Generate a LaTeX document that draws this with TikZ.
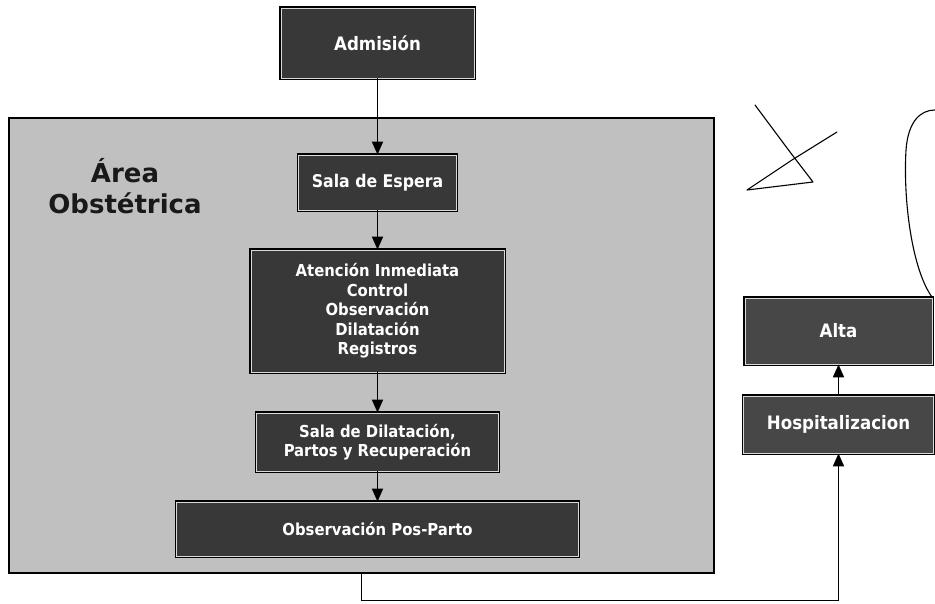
\documentclass[tikz,border=0pt]{standalone}
\usepackage{fontspec}
\setmainfont{DejaVu Sans}
\newfontfamily\narrowfont{DejaVu Sans Condensed}
\usetikzlibrary{arrows.meta}

\definecolor{areafill}{HTML}{C0C0C0}
\definecolor{boxfill}{HTML}{383838}
\definecolor{sidefill}{HTML}{474747}
\definecolor{boxrule}{HTML}{DADADA}

\tikzset{
  stagebox/.style={
    rectangle, inner sep=0pt, fill=boxfill, draw=boxrule, line width=0.8pt,
    preaction={draw=black, line width=3.6pt},
    text=white, align=center,
    font=\narrowfont\bfseries\fontsize{16.5}{19.5}\selectfont
  },
  sidebox/.style={stagebox, fill=sidefill, font=\narrowfont\bfseries\fontsize{18.5}{21}\selectfont},
  flow/.style={draw=black, line width=1.8pt,
    -{Triangle[length=13pt,width=11pt]}},
  pen/.style={draw=black, line width=1.1pt, line cap=round, line join=round}
}

\begin{document}
\begin{tikzpicture}[x=1pt,y=-1pt]
\useasboundingbox (0,0) rectangle (935,604);
\fill[white] (0,0) rectangle (935,604);

% obstetric area frame
\node[rectangle, inner sep=0pt, fill=areafill, draw=black, line width=1.8pt,
      minimum width=705pt, minimum height=455pt] (area) at (361.5,345.5) {};
\node[align=center, font=\bfseries\fontsize{26}{31}\selectfont, text=black!90]
      (arealabel) at (125,186) {Área\\Obstétrica};

% stages inside the area
\node[stagebox, minimum width=193pt, minimum height=70pt, font=\narrowfont\bfseries\fontsize{18.5}{21}\selectfont]
      (admision) at (377.5,43) {Admisión};
\node[stagebox, minimum width=158pt, minimum height=55pt, font=\narrowfont\bfseries\fontsize{17.5}{20}\selectfont]
      (espera) at (377.5,182.5) {Sala de Espera};
\node[stagebox, minimum width=253pt, minimum height=122pt]
      (atencion) at (377.5,311) {Atención Inmediata\\Control\\Observación\\Dilatación\\Registros};
\node[stagebox, minimum width=242pt, minimum height=58pt]
      (dilatacion) at (377.5,442) {Sala de Dilatación,\\Partos y Recuperación};
\node[stagebox, minimum width=402pt, minimum height=54pt]
      (posparto) at (377.5,529) {Observación Pos-Parto};

% ward boxes on the right
\node[sidebox, minimum width=187pt, minimum height=66pt] (alta) at (838.5,331) {Alta};
\node[sidebox, minimum width=190pt, minimum height=57pt] (hosp) at (838.5,424.5) {Hospitalizacion};

% flow connectors
\draw[flow] (admision.south) -- (espera.north);
\draw[flow] (espera.south) -- (atencion.north);
\draw[flow] (atencion.south) -- (dilatacion.north);
\draw[flow] (dilatacion.south) -- (posparto.north);
\coordinate (turn) at (361.5,600.5);
\draw[flow] (area.south) -- (turn) -- (turn -| hosp.south) -- (hosp.south);
\draw[flow] (hosp.north) -- (alta.south);

% pen marks
\draw[pen] (755,105) -- (790,152) -- (813,182) -- (747,190) -- (792,160) -- (837,132);
\draw[pen] (alta.north east) .. controls (912,270) and (903,200) .. (906,150)
           .. controls (908,122) and (920,110) .. (935,110);
\end{tikzpicture}
\end{document}
